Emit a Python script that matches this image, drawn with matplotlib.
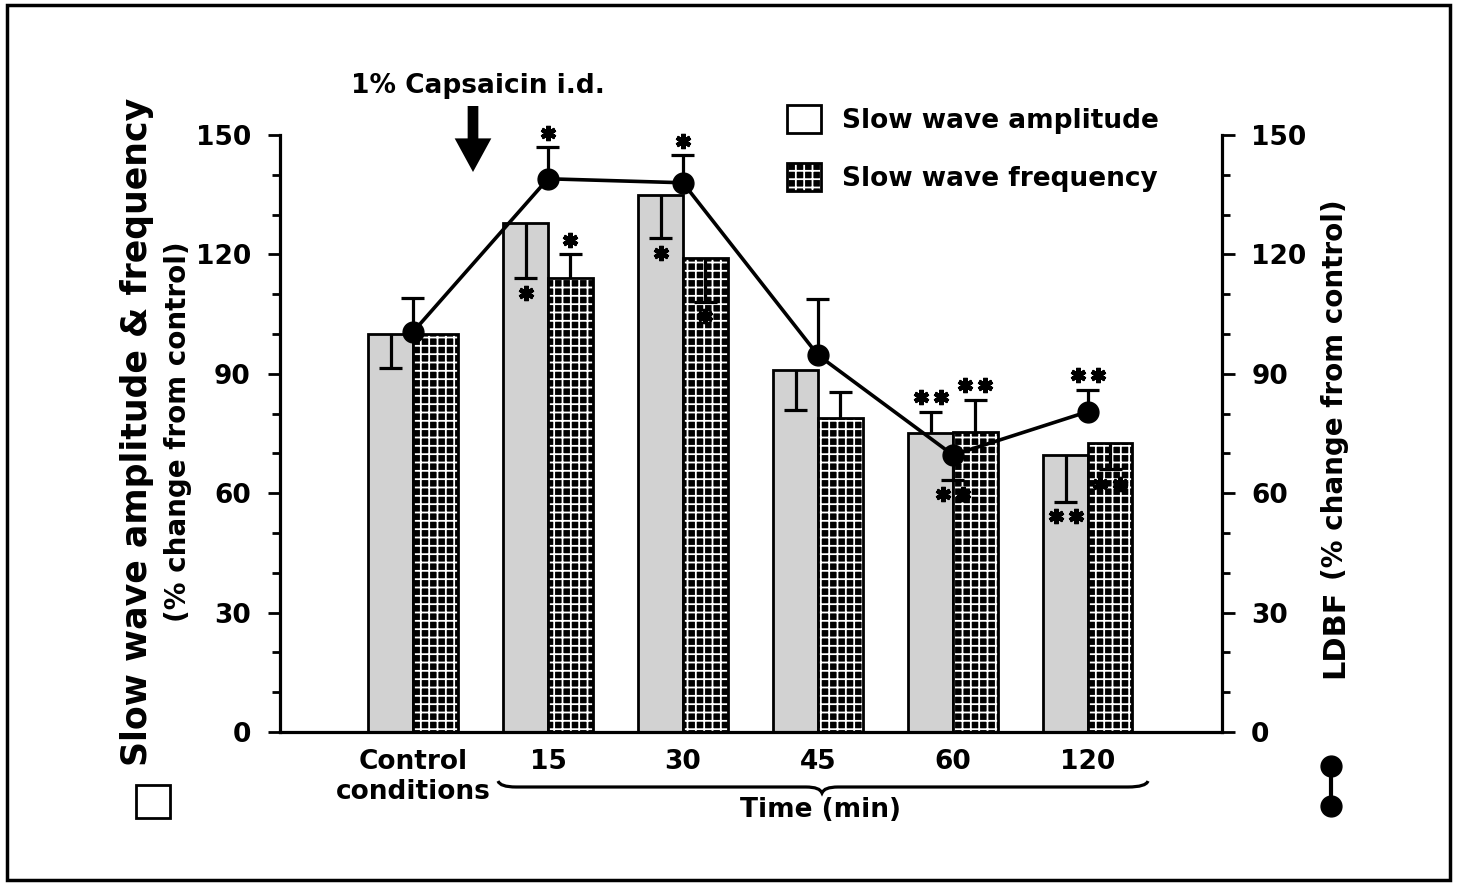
import numpy as np
import matplotlib
matplotlib.use("Agg")
import matplotlib.pyplot as plt
from matplotlib.patches import Patch, Rectangle, PathPatch
from matplotlib.path import Path
from matplotlib.lines import Line2D
from matplotlib.legend_handler import HandlerTuple
from matplotlib.ticker import MultipleLocator

plt.rcParams['font.family'] = 'DejaVu Sans'
plt.rcParams['font.weight'] = 'bold'
plt.rcParams['hatch.linewidth'] = 1.3

# data (% change from control)
groups = ['Control\nconditions', '15', '30', '45', '60', '120']
amp = np.array([100, 128, 135, 91, 75, 69.5])
amp_err = np.array([8.5, 14, 11, 10, 5.5, 11.7])
amp_dir = np.array([-1, -1, -1, -1, 1, -1])
amp_sig = ['', '*', '*', '', '**', '**']

freq = np.array([100, 114, 119, 79, 75.5, 72.5])
freq_err = np.array([0, 6, 11, 6.5, 8, 6.5])
freq_dir = np.array([1, 1, -1, 1, 1, -1])
freq_sig = ['', '*', '*', '', '**', '**']

ldbf = np.array([100.5, 139, 138, 94.7, 69.6, 80.5])
ldbf_err = np.array([8.5, 8, 7, 14, 6.3, 5.5])
ldbf_dir = np.array([1, 1, 1, 1, -1, 1])
ldbf_sig = ['', '*', '*', '', '**', '**']

W, H = 1461, 883
fig = plt.figure(figsize=(W / 100, H / 100), dpi=100)
ax = fig.add_axes([280 / W, 151 / H, 942 / W, 597 / H])

x = np.arange(len(groups))
w = 0.33
ax.bar(x - w / 2, amp, w, color='#d2d2d2', edgecolor='black', lw=2, zorder=2)
ax.bar(x + w / 2, freq, w, color='black', edgecolor='white', hatch='++', lw=0, zorder=2)
ax.bar(x + w / 2, freq, w, fill=False, edgecolor='black', lw=2, zorder=2)

cap = 0.085


def err_marks(a, xs, vals, errs, dirs, sigs, zo):
    for xi, v, e, d, s in zip(xs, vals, errs, dirs, sigs):
        if e == 0:
            continue
        tip = v + d * e
        a.vlines(xi, v, tip, color='black', lw=2.3, zorder=zo)
        a.hlines(tip, xi - cap, xi + cap, color='black', lw=2.3, zorder=zo)
        n = len(s)
        if n:
            offs = np.array([0.0]) if n == 1 else np.array([-0.075, 0.075])
            a.plot(xi + offs, [tip + d * 3.6] * n, ls='none', marker=(6, 2, 0),
                   ms=11, mew=3.2, color='black', zorder=zo, clip_on=False)


err_marks(ax, x - w / 2, amp, amp_err, amp_dir, amp_sig, 3)
err_marks(ax, x + w / 2, freq, freq_err, freq_dir, freq_sig, 3)

ax.set_xlim(-0.985, 5.993)
ax.set_ylim(0, 150)
ax.set_yticks(np.arange(0, 151, 30))
ax.yaxis.set_minor_locator(MultipleLocator(10))
ax.set_xticks(x, labels=groups)
ax.tick_params(axis='x', length=0, pad=12, labelsize=19)
ax.tick_params(axis='y', which='major', length=9, width=2, labelsize=19, pad=12)
ax.tick_params(axis='y', which='minor', length=6, width=2)
for sp in ['top', 'right']:
    ax.spines[sp].set_visible(False)
ax.spines['left'].set_linewidth(2.3)
ax.spines['bottom'].set_linewidth(2.3)

ax2 = ax.twinx()
ax2.set_ylim(0, 150)
ax2.set_yticks(np.arange(0, 151, 30))
ax2.yaxis.set_minor_locator(MultipleLocator(10))
ax2.tick_params(axis='y', which='major', length=9, width=2, labelsize=19, pad=12)
ax2.tick_params(axis='y', which='minor', length=6, width=2)
for sp in ['top', 'left', 'bottom']:
    ax2.spines[sp].set_visible(False)
ax2.spines['right'].set_linewidth(2.3)

# LDBF line
err_marks(ax2, x, ldbf, ldbf_err, ldbf_dir, ldbf_sig, 5)
ax2.plot(x, ldbf, '-o', color='black', lw=2.6, ms=15, zorder=6, clip_on=False)

# legend
h_amp = Patch(facecolor='white', edgecolor='black', lw=2)
h_freq = (Patch(facecolor='black', edgecolor='white', hatch='++', lw=0),
          Patch(fill=False, edgecolor='black', lw=2))
ax.legend([h_amp, h_freq], ['Slow wave amplitude', 'Slow wave frequency'],
          handler_map={tuple: HandlerTuple(ndivide=1, pad=0)},
          loc='upper left', bbox_to_anchor=(787 / W, 1 - 105 / H),
          bbox_transform=fig.transFigure, frameon=False, fontsize=19,
          handlelength=1.3, handleheight=1.25, handletextpad=0.8,
          labelspacing=1.1, borderpad=0, borderaxespad=0)

# capsaicin annotation
fig.text(478 / W, 1 - 86 / H, '1% Capsaicin i.d.', ha='center', va='center', fontsize=19)
ax.annotate('', xy=(473 / W, 1 - 172 / H), xytext=(473 / W, 1 - 106 / H),
            xycoords='figure fraction', textcoords='figure fraction',
            arrowprops=dict(arrowstyle='simple,head_length=1.1,head_width=1.2,tail_width=0.35',
                            mutation_scale=22, color='black', lw=0, shrinkA=0, shrinkB=0))

# axis titles
fig.text(147 / W, 1 - 432 / H, 'Slow wave amplitude & frequency', rotation=90,
         rotation_mode='anchor', ha='center', va='baseline', fontsize=25)
fig.text(186 / W, 1 - 432 / H, '(% change from control)', rotation=90,
         rotation_mode='anchor', ha='center', va='baseline', fontsize=20)
fig.text(1343 / W, 1 - 634 / H, 'LDBF', rotation=90,
         rotation_mode='anchor', ha='center', va='baseline', fontsize=22)
fig.text(1343 / W, 1 - 390 / H, '(% change from control)', rotation=90,
         rotation_mode='anchor', ha='center', va='baseline', fontsize=20)

fig.add_artist(Rectangle((136 / W, 1 - 818 / H), 34 / W, 33 / H, fill=False,
                         lw=2, edgecolor='black', transform=fig.transFigure))
fig.add_artist(Line2D([1331 / W, 1331 / W], [1 - 766 / H, 1 - 806 / H], marker='o',
                      ms=15, lw=3, color='black', transform=fig.transFigure))

# brace under time points
pts = [(498, 781), (500, 787), (516, 787), (806, 787), (820, 787), (822, 793),
       (824, 787), (838, 787), (1128, 787), (1146, 787), (1148, 781)]
codes = [Path.MOVETO, Path.CURVE3, Path.CURVE3, Path.LINETO, Path.CURVE3, Path.CURVE3,
         Path.CURVE3, Path.CURVE3, Path.LINETO, Path.CURVE3, Path.CURVE3]
brace = Path([(px / W, 1 - py / H) for px, py in pts], codes)
fig.add_artist(PathPatch(brace, fill=False, lw=2.3, edgecolor='black',
                         transform=fig.transFigure))
fig.text(820 / W, 1 - 810 / H, 'Time (min)', ha='center', va='center', fontsize=19)

# outer frame
fig.add_artist(Rectangle((7 / W, 1 - 880 / H), 1443 / W, 875 / H, fill=False,
                         lw=2.5, edgecolor='black', transform=fig.transFigure))

fig.savefig('out.png', dpi=100)
